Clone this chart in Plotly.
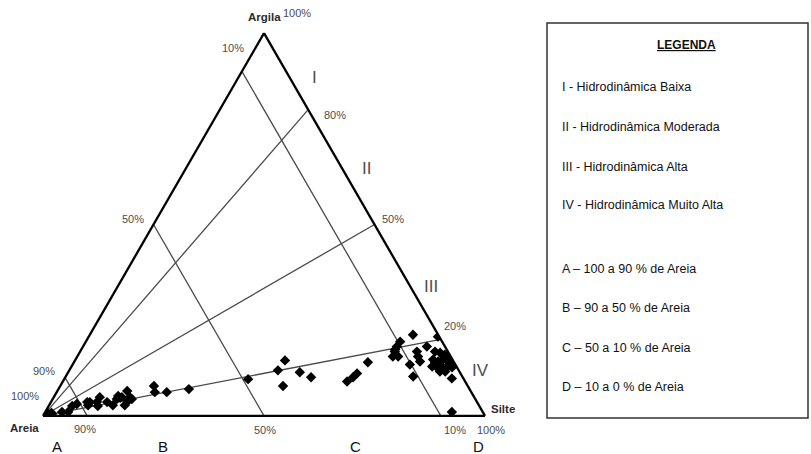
import plotly.graph_objects as go

# Sample composition (%)
argila = [1.0, 0.5, 0.8, 0.3, 0.5, 1.0, 1.0, 2.6, 3.1, 3.6, 2.8, 3.6, 3.6, 2.6, 4.9, 3.6, 2.8, 4.4,
          5.2, 4.7, 4.9, 2.8, 6.5, 3.9, 4.9, 4.4, 7.8, 6.2, 6.2, 7.0, 9.6, 14.5, 11.9, 11.4, 10.1,
          7.8, 9.0, 10.1, 11.1, 14.0, 15.5, 17.3, 19.4, 18.1, 15.5, 16.8, 21.2, 16.8, 15.5, 14.2,
          13.4, 10.3, 18.1, 20.7, 16.8, 16.5, 16.0, 14.7, 14.2, 14.7, 14.2, 14.0, 12.9, 12.7, 12.9,
          12.7, 12.7, 11.6, 11.6, 14.0, 15.5, 9.8, 1.0]
silte = [0.3, 0.8, 1.5, 0.3, 1.8, 3.8, 5.2, 5.3, 6.1, 8.2, 8.8, 8.8, 10.4, 11.1, 10.4, 12.7, 14.4, 14.5,
         14.4, 15.1, 15.4, 17.1, 15.8, 17.3, 17.2, 17.9, 21.2, 22.2, 24.9, 29.5, 41.6, 47.5, 47.2, 52.4,
         55.6, 50.4, 64.3, 65.1, 65.5, 66.5, 71.4, 71.0, 71.1, 71.0, 72.6, 71.2, 73.1, 76.2, 77.1, 78.2,
         76.3, 78.6, 77.8, 79.0, 80.3, 81.6, 82.9, 80.9, 82.3, 83.1, 84.5, 85.5, 81.6, 82.8, 83.8,
         85.0, 86.2, 84.0, 85.2, 81.7, 84.3, 87.6, 92.0]
areia = [100 - a - s for a, s in zip(argila, silte)]

# Class boundaries
sand_limits = [90, 50, 10]          # lines of constant sand %
clay_ratio_limits = [80, 50, 20]    # clay % of the mud fraction (lines from the Areia vertex)

legend_items = ["I - Hidrodinâmica Baixa", "II - Hidrodinâmica Moderada",
                "III - Hidrodinâmica Alta", "IV - Hidrodinâmica Muito Alta"]
legend_classes = ["A – 100 a 90 % de Areia", "B – 90 a 50 % de Areia",
                  "C – 50 a 10 % de Areia", "D – 10 a 0 % de Areia"]

W, H = 811, 454
fig = go.Figure()

LINE = dict(color="#4a4a4a", width=1.3)
for s in sand_limits:
    fig.add_trace(go.Scatterternary(a=[100 - s, 0], b=[s, s], c=[0, 100 - s], mode="lines",
                                    line=LINE, hoverinfo="skip", showlegend=False))
for r in clay_ratio_limits:
    fig.add_trace(go.Scatterternary(a=[0, r], b=[100, 0], c=[0, 100 - r], mode="lines",
                                    line=LINE, hoverinfo="skip", showlegend=False))

fig.add_trace(go.Scatterternary(a=argila, b=areia, c=silte, mode="markers",
                                marker=dict(symbol="diamond", size=8, color="black"),
                                showlegend=False))

ax = dict(showticklabels=False, ticks="", showgrid=False, linecolor="black", linewidth=2.3,
          title=dict(text=""))
fig.update_layout(
    width=W, height=H, margin=dict(l=0, r=0, t=0, b=0),
    paper_bgcolor="white", plot_bgcolor="white", showlegend=False,
    ternary=dict(sum=100, bgcolor="white",
                 domain=dict(x=[43 / W, 485 / W], y=[(H - 416) / H, (H - 33) / H]),
                 aaxis=ax, baxis=ax, caxis=ax),
    font=dict(family="Liberation Sans, Arial, sans-serif", color="#333333"),
)

def ann(x, y, text, size=11, color="#4d4d4d", bold=False, anchor="center"):
    t = f"<b>{text}</b>" if bold else text
    fig.add_annotation(x=x / W, y=1 - y / H, xref="paper", yref="paper", text=t, showarrow=False,
                       font=dict(size=size, color=color), xanchor=anchor, yanchor="middle")

# Vertex titles
ann(264, 17, "Argila", 11.5, "#2b2b2b", True)
ann(24, 428, "Areia", 11.5, "#2b2b2b", True)
ann(503, 409, "Silte", 11.5, "#2b2b2b", True)
# Percent labels
for x, y, t in [(297, 13, "100%"), (233, 48, "10%"), (335, 115, "80%"), (133, 219, "50%"),
                (393, 219, "50%"), (455, 326, "20%"), (44, 371, "90%"), (25, 396, "100%"),
                (85, 429, "90%"), (265, 430, "50%"), (455, 430, "10%"), (491, 430, "100%")]:
    ann(x, y, t, 11)
# Hydrodynamic regions
for x, y, t in [(314, 77, "I"), (366, 168, "II"), (431, 286, "III"), (480, 370, "IV")]:
    ann(x, y, t, 17, "#4d4d4d")
# Sand classes
for x, y, t in [(57, 446, "A"), (163, 446, "B"), (355, 446, "C"), (478, 446, "D")]:
    ann(x, y, t, 15, "#111111")

# Legend box
fig.add_shape(type="rect", xref="paper", yref="paper", x0=547 / W, x1=808 / W,
              y0=1 - 418 / H, y1=1 - 23 / H, line=dict(color="#333333", width=1.5))
ann(686, 45, "<u>LEGENDA</u>", 12, "#111111", True)
for y, t in zip([87, 127, 167, 205], legend_items):
    ann(560, y, t, 12.5, "#111111", anchor="left")
for y, t in zip([269, 308, 348, 387], legend_classes):
    ann(560, y, t, 12.5, "#111111", anchor="left")

fig.write_html("out.html", config={"displayModeBar": False},
               post_script="document.body.style.margin='0';document.body.style.overflow='hidden';")
